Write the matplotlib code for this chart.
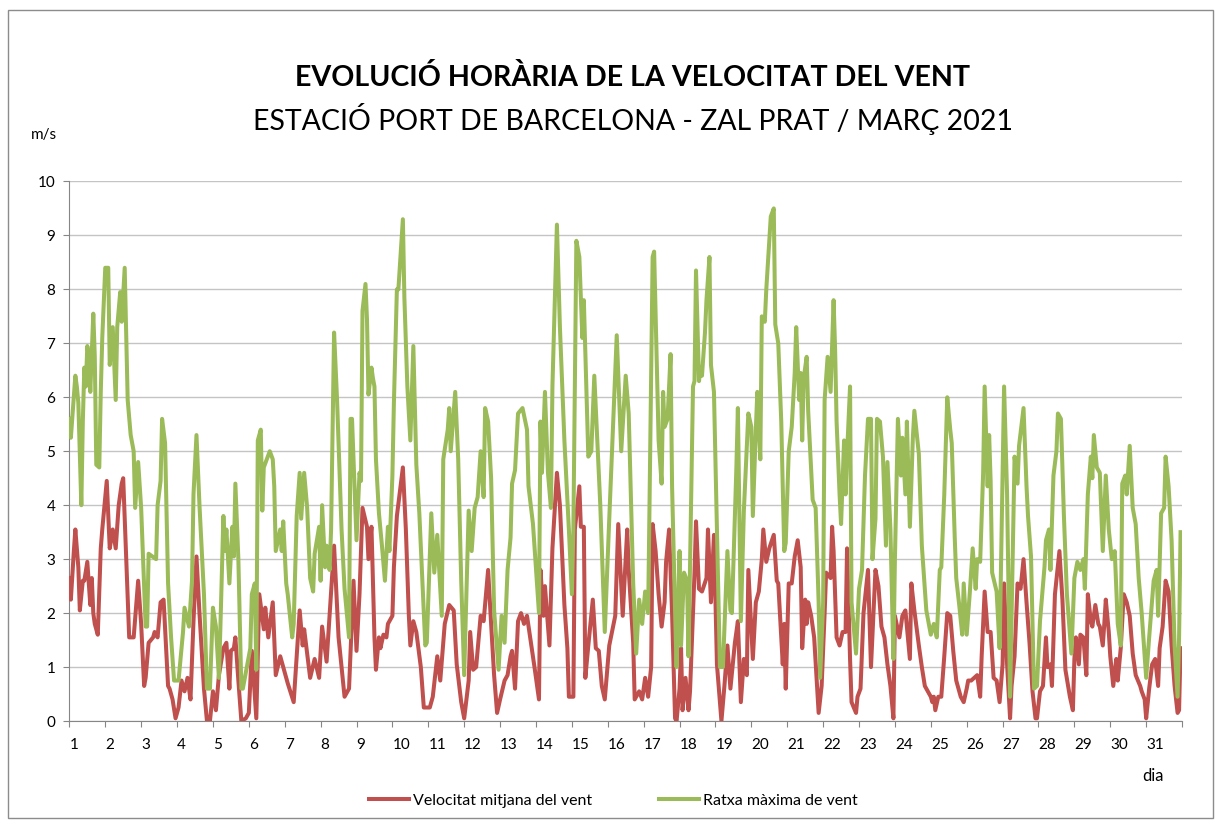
import matplotlib
matplotlib.use('Agg')
import matplotlib.pyplot as plt
import matplotlib.transforms as mtransforms
from matplotlib.patches import Rectangle
from matplotlib.lines import Line2D

# hores des de l'1 de març 00h (0..743), valors en m/s llegits del gràfic
red_hour = [0, 1, 3, 4, 6, 7, 9, 10, 12, 14, 15, 16, 17, 19, 21, 22, 25, 27, 29, 31, 33, 35, 36, 38, 40, 43, 46, 48,
            50, 51, 53, 56, 57, 59, 61, 63, 66, 67, 69, 71, 73, 75, 77, 79, 81, 83, 85, 87, 90, 92, 94,
            96, 98, 100, 103, 105, 107, 108, 110, 111, 113, 115, 118, 120, 122, 125, 127, 130, 131, 133, 136, 138,
            141, 144, 146, 150, 154, 156, 157, 161, 164, 167, 169, 172, 177, 180, 184, 187, 190, 192, 194,
            196, 199, 200, 202, 203, 204, 205, 207, 208, 210, 212, 213, 216, 217, 219, 223, 225, 227, 228, 230,
            232, 235, 237, 241, 243, 246, 248, 251, 254, 257, 259, 262, 264, 267, 268, 270, 272, 275, 277, 280,
            282, 284, 286, 288, 291, 293, 295,
            296, 298, 300, 302, 304, 306, 310, 311, 314, 315, 317, 318, 321, 323, 326, 328, 331, 333, 334, 337,
            338, 341, 342, 344, 345, 347, 350, 352, 354, 356, 358, 361, 365, 367, 370, 373, 374, 377, 378, 381,
            383, 385, 387, 389,
            390, 392, 394, 396, 398, 399, 401, 403, 405, 406, 408, 409, 410, 412, 414, 415, 418, 419, 421, 423,
            426, 427, 429, 431, 433, 436, 438, 440, 442, 445, 447, 449, 451, 453, 454, 457, 459, 461, 463, 464,
            466, 468, 471, 473, 474, 477, 478, 479, 481, 483, 485, 487,
            489, 490, 492, 493, 494, 496, 498, 500, 501, 503, 505, 506, 509, 510, 511, 513, 515, 517, 519, 520,
            522, 523, 526, 527, 529, 531, 534, 536, 538, 539, 541, 543, 545, 547, 549, 551, 552, 555, 557, 559,
            562, 563, 565, 568, 570, 572, 576,
            577, 578, 579, 581, 583, 585, 587, 589, 591, 593, 596, 598, 600, 601, 603, 605, 607, 609, 610, 612,
            614, 616, 618, 620, 622, 624, 625, 627, 629, 630, 632, 634, 636, 638, 640, 642, 644, 646, 647, 649,
            651, 653, 654, 656, 657, 659, 662, 664, 666, 669, 671,
            672, 673, 675, 676, 678, 680, 681, 683, 684, 686, 688, 689, 691, 692, 693, 695, 696, 698, 700, 701,
            703, 705, 707, 709, 711, 713, 716, 717, 719, 720, 722, 724, 726, 728, 729, 731, 733, 735, 737, 739,
            741, 742, 743]
red_ms = [2.65, 2.25, 3.15, 3.55, 2.85, 2.05, 2.6, 2.6, 2.95, 2.15, 2.65, 2.0, 1.8, 1.6, 3.2, 3.55, 4.45, 3.2, 3.55,
          3.2, 4.0, 4.4, 4.5, 3.0, 1.55, 1.55, 2.6, 1.8,
          0.65, 0.8, 1.45, 1.55, 1.65, 1.55, 2.2, 2.25, 0.65, 0.6, 0.4, 0.05, 0.25, 0.75, 0.55, 0.8, 0.4, 1.85,
          3.05, 2.0, 0.6, 0.0, 0.0,
          0.55, 0.2, 0.85, 1.35, 1.45, 0.6, 1.3, 1.35, 1.55, 0.75, 0.0, 0.05, 0.15, 1.3, 0.05, 2.35, 1.7, 2.1,
          1.55, 2.2, 0.85,
          1.2, 0.9, 0.7, 0.35, 2.05, 1.4, 1.7, 0.8, 1.15, 0.8, 1.75, 1.1, 3.25, 1.55, 0.45, 0.6, 2.6, 1.3, 2.35,
          3.95, 3.6, 3.0, 3.6, 2.6, 1.55, 0.95, 1.55, 1.35, 1.6, 1.55, 1.8, 1.95, 2.85, 3.8, 4.7, 3.55, 1.95, 1.4,
          1.85,
          1.65, 1.0, 0.25, 0.25, 0.45, 1.2, 0.75, 1.8, 2.15, 2.05, 1.05, 0.35, 0.05, 0.75, 1.65, 0.95, 1.0, 1.95,
          1.85, 2.8,
          1.8, 0.85, 0.15, 0.4, 0.75, 0.85, 1.2,
          1.3, 0.6, 1.85, 2.0, 1.8, 1.95, 1.2, 1.0, 0.4, 2.8, 1.95, 2.5, 1.4, 3.2, 4.6, 4.0, 2.15, 1.35, 0.45, 0.45,
          3.55, 4.35, 3.6, 3.6, 0.8, 1.4, 2.25, 1.35, 1.3, 0.65, 0.4, 1.4, 1.95, 3.65, 1.95, 3.55, 2.8, 1.45, 0.4,
          0.55,
          0.4, 0.8, 0.45, 1.0,
          3.65, 3.15, 2.35, 1.75, 2.2, 2.95, 3.55, 2.0, 0.05, 0.0, 0.6, 1.35, 0.2, 0.8, 0.2, 0.55, 2.75, 3.7, 2.45,
          2.4,
          2.65, 3.55, 2.2, 3.45, 1.05, 0.0, 0.65, 1.4, 0.6, 1.45, 1.85, 0.35, 1.15, 0.85, 2.8, 1.15, 2.2, 2.4, 3.0,
          3.55,
          2.95, 3.2, 3.45, 2.6, 2.55, 1.05, 1.8, 0.6, 2.55, 2.55, 3.05, 3.35,
          2.85, 1.35, 2.25, 1.8, 2.2, 1.95, 1.55, 0.6, 0.15, 0.65, 2.0, 2.75, 2.65, 3.6, 3.15, 1.55, 1.4, 1.65, 1.65,
          3.2,
          1.15, 0.35, 0.15, 0.45, 0.6, 2.0, 2.8, 1.0, 2.2, 2.8, 2.5, 1.75, 1.55, 1.05, 0.65, 0.05, 1.95, 1.55, 1.95,
          2.05,
          1.15, 2.55, 2.05, 1.4, 1.0, 0.65, 0.45,
          0.35, 0.45, 0.2, 0.45, 0.45, 1.2, 2.0, 1.95, 1.3, 0.75, 0.45, 0.35, 0.6, 0.75, 0.75, 0.8, 0.85, 0.45, 1.2,
          2.4,
          1.65, 1.65, 0.8, 0.75, 0.35, 1.05, 2.55, 1.05, 0.05, 0.65, 1.2, 2.55, 2.45, 3.0, 2.2, 1.45, 0.55, 0.05,
          0.05, 0.55,
          0.65, 1.55, 1.0, 1.05, 0.65, 2.35, 3.15, 2.25, 0.95, 0.45, 0.2,
          1.15, 1.55, 1.05, 1.6, 1.55, 0.85, 2.35, 1.85, 1.75, 2.15, 1.8, 1.75, 1.4, 1.8, 2.25, 1.65, 1.2, 0.65,
          1.15, 0.75,
          1.35, 2.35, 2.2, 1.95, 1.25, 0.85, 0.65, 0.55, 0.4, 0.05, 0.6, 1.05, 1.15, 0.65, 1.35, 1.75, 2.6, 2.4,
          1.4, 0.65,
          0.15, 0.2, 1.35]

green_hour = [0, 1, 4, 5, 6, 8, 9, 10, 11, 12, 13, 14, 16, 17, 18, 20, 21, 22, 24, 26, 27, 29, 31, 32, 34, 35, 37,
              38, 39, 41, 43, 44, 46, 48, 51, 52, 53, 58, 59, 61, 62, 64, 66, 68, 70, 73, 76, 77, 80, 82, 83, 85,
              87, 90, 92, 94,
              96, 98, 100, 101, 103, 104, 105, 107, 109, 110, 111, 113, 115, 116, 119, 121, 122, 124, 125, 126,
              128, 129, 130, 134, 136, 137, 138, 141, 142, 143, 145, 146, 149, 150, 152, 154, 155, 157, 159, 161,
              163, 164, 167, 168, 169, 171, 172, 174, 175, 177, 179, 182, 184, 187, 188, 189, 192, 194, 195, 196,
              198,
              199, 200, 202, 203, 204, 205, 207, 209, 211, 213, 214, 216, 217, 219, 220, 223, 224, 226, 228, 230,
              232, 234, 238, 239, 242, 244, 246, 249, 250, 253, 254, 255, 258, 260, 262, 264, 267, 269, 271, 273,
              275, 277, 278, 280, 282, 284, 287, 289, 291, 293, 295,
              296, 298, 300, 303, 306, 307, 310, 314, 315, 316, 318, 320, 322, 323, 326, 328, 331, 334, 336, 337,
              339, 341, 343, 344, 347, 349, 351, 355, 358, 361, 366, 369, 372, 374, 377, 379, 381, 383, 385, 387,
              390,
              391, 393, 394, 396, 397, 398, 400, 402, 403, 405, 406, 408, 409, 411, 413, 414, 417, 418, 419, 421,
              422, 423, 425, 426, 428, 429, 431, 435, 437, 440, 442, 443, 446, 447, 449, 451, 454, 456, 457, 459,
              460, 462, 463, 465, 466, 469, 471, 472, 474, 476, 478, 479, 481, 483, 485, 486, 488, 489,
              490, 491, 493, 494, 497, 499, 501, 502, 504, 505, 507, 509, 511, 512, 513, 515, 516, 518, 519, 520,
              522, 523, 526, 528, 530, 532, 534, 536, 537, 539, 540, 542, 544, 546, 547, 549, 551, 552, 554, 556,
              557, 559, 560, 562, 564, 565, 568, 570, 573, 576,
              578, 580, 582, 583, 585, 587, 589, 590, 592, 593, 595, 597, 598, 600, 602, 604, 606, 607, 609, 611,
              612, 614, 615, 616, 617, 620, 622, 624, 625, 627, 629, 630, 632, 634, 635, 638, 640, 641, 643, 645,
              647, 649, 652, 653, 655, 656, 658, 660, 661, 663, 665, 667, 670, 672, 674, 676, 678, 679, 681,
              683, 684, 685, 687, 689, 691, 693, 695, 697, 699, 701, 703, 704, 706, 707, 709, 711, 713, 715, 717,
              720, 722, 725, 727, 728, 730, 732, 733, 735, 737, 739, 741, 742, 743]
green_ms = [5.6, 5.25, 6.4, 6.2, 5.9, 4.0, 5.55, 6.55, 6.2, 6.95, 6.75, 6.1, 7.55, 6.75, 4.75, 4.7, 6.1, 7.1, 8.4,
            8.4, 6.6, 7.3, 5.95, 7.3, 7.95, 7.4, 8.4,
            7.2, 5.95, 5.3, 5.0, 3.95, 4.8, 3.95, 1.75, 1.75, 3.1, 3.0, 4.0, 4.45, 5.6, 5.15, 2.55, 1.55, 0.75,
            0.75, 1.65, 2.1, 1.75, 2.6, 4.2, 5.3,
            4.0, 2.35, 0.6, 0.6,
            2.1, 1.75, 0.8, 1.75, 3.8, 3.15, 3.55, 2.55, 3.6, 3.05, 4.4, 3.0, 0.6, 0.6, 1.05, 1.35, 2.35, 2.55,
            0.95, 5.2,
            5.4, 3.9, 4.7, 5.0, 4.85, 4.35, 3.15, 3.55, 3.15, 3.7, 2.55, 2.35, 1.55, 1.8, 3.8, 4.6, 3.75, 4.6, 3.95,
            2.65,
            2.4, 3.1, 3.6, 2.6, 4.0, 2.85, 3.25, 2.8, 3.55, 7.2, 5.95, 3.55, 2.45, 1.55, 5.6, 5.6, 3.35, 4.6, 4.45,
            7.6,
            8.1,
            7.45, 6.05, 6.55, 6.35, 6.2, 4.85, 3.85, 3.25, 2.6, 3.6, 3.15, 4.55, 5.9, 8.0, 8.0, 9.3, 7.85, 6.2, 5.2,
            6.95,
            4.75, 3.85, 1.4, 1.45, 3.85, 2.75, 3.45, 1.95, 4.85, 5.4, 5.8, 5.0, 6.1, 4.85, 2.6, 0.85, 3.9, 3.15, 3.95,
            4.15,
            5.0, 4.15, 5.8, 5.55, 4.5, 2.05, 0.95, 1.95, 1.45, 2.8, 3.4,
            4.4, 4.65, 5.7, 5.8, 5.4, 4.35, 3.65, 2.0, 5.55, 4.6, 6.1, 4.6, 3.95, 6.2, 9.2, 7.3, 5.2, 3.55, 2.35,
            3.55,
            8.9, 8.6, 7.1, 7.8, 4.9, 5.0, 6.4, 4.0, 1.65, 3.75, 7.15, 5.0, 6.4, 5.7, 2.55, 1.25, 2.25, 1.8, 2.4, 2.0,
            8.6,
            8.7, 6.35, 5.2, 4.4, 6.1, 5.45, 5.6, 6.8, 4.35, 2.05, 1.0, 3.15, 1.4, 2.75, 2.6, 1.2, 6.2, 6.3, 8.35, 6.3,
            6.55, 6.4, 7.2, 7.8, 8.6, 6.6, 6.1, 1.0, 1.0, 3.15, 2.05, 2.0, 4.7, 5.8, 1.85, 3.9, 5.7, 5.45, 3.8, 5.4,
            6.1, 4.85, 7.5, 7.4, 8.0, 9.35, 9.5, 7.35, 7.0, 5.55, 3.15, 3.3, 5.0, 5.45, 6.45, 7.3, 5.95, 6.45,
            5.2, 6.35, 6.75, 5.75, 4.1, 3.95, 2.2, 0.8, 2.2, 5.95, 6.75, 6.1, 7.8, 6.9, 5.55, 4.2, 3.65, 5.2, 4.2,
            4.95,
            6.2, 2.2, 1.25, 2.45, 2.8, 4.55, 5.6, 5.6, 3.0, 3.75, 5.6, 5.55, 4.9, 3.25, 4.8, 3.55, 1.15, 3.0, 5.6,
            4.55,
            5.25, 4.2, 5.55, 3.6, 5.25, 5.75, 4.95, 3.25, 2.05, 1.6,
            1.8, 1.55, 2.8, 2.85, 4.2, 6.0, 5.4, 5.15, 3.4, 2.65, 2.15, 1.6, 2.55, 1.6, 2.35, 3.2, 2.45, 3.0, 2.95,
            4.6,
            6.2, 4.35, 5.3, 4.45, 2.75, 2.4, 1.35, 4.6, 6.2, 4.2, 0.45, 1.95, 4.9, 4.4, 5.1, 5.8, 4.35, 3.8, 3.05,
            0.6,
            0.65, 1.85, 2.85, 3.35, 3.55, 2.8, 4.55, 5.0, 5.7, 5.6, 3.8, 2.35, 1.25, 2.65, 2.95, 2.8, 3.0, 2.45, 4.2,
            4.9, 4.5, 5.3, 4.7, 4.6, 3.15, 4.55, 3.55, 3.0, 3.15, 1.8, 1.4, 4.4, 4.55, 4.2, 5.1, 3.95, 3.65, 2.65,
            2.0,
            0.8, 1.55, 2.6, 2.8, 1.95, 3.85, 3.95, 4.9, 4.35, 3.35, 1.4, 0.45, 1.55, 3.5]

day_labels = [str(d) for d in range(1, 32)]

RED = '#C0504D'
GREEN = '#9BBB59'
AXIS_GREY = '#868686'

plt.rcParams['font.family'] = ['Lato', 'DejaVu Sans']

fig = plt.figure(figsize=(12.19, 8.26), dpi=100)
ax = fig.add_axes([0.0569, 0.1271, 0.9128, 0.6532])

ax.plot(red_hour, red_ms, color=RED, lw=2.9, solid_joinstyle='round', zorder=3)
ax.plot(green_hour, green_ms, color=GREEN, lw=2.9, solid_joinstyle='round', zorder=4)

ax.set_xlim(0, 744)
ax.set_ylim(0, 10)
ax.set_yticks(range(11))
ax.grid(axis='y', color='#C4C4C4', lw=1)
ax.set_axisbelow(True)

ax.set_xticks([24 * k for k in range(32)])
ax.set_xticklabels(day_labels + [''])
offset = mtransforms.ScaledTranslation(2 / 100, 0, fig.dpi_scale_trans)
for lab in ax.get_xticklabels():
    lab.set_ha('left')
    lab.set_transform(lab.get_transform() + offset)

for side in ['top', 'right']:
    ax.spines[side].set_visible(False)
for side in ['left', 'bottom']:
    ax.spines[side].set_color(AXIS_GREY)
ax.tick_params(axis='both', direction='out', length=4, color=AXIS_GREY, labelsize=11, labelcolor='black')
ax.tick_params(axis='y', pad=6)
ax.tick_params(axis='x', pad=8)

# titols i textos
fig.text(0.519, 0.9056, 'EVOLUCIÓ HORÀRIA DE LA VELOCITAT DEL VENT', ha='center', va='center',
         fontsize=20.6, fontweight='bold')
fig.text(0.519, 0.856, 'ESTACIÓ PORT DE BARCELONA - ZAL PRAT / MARÇ 2021', ha='center', va='center',
         fontsize=20.5)
fig.text(0.036, 0.837, 'm/s', ha='center', va='center', fontsize=11)
fig.text(0.946, 0.0605, 'dia', ha='center', va='center', fontsize=12)

handles = [Line2D([], [], color=RED, lw=2.9), Line2D([], [], color=GREEN, lw=2.9)]
fig.legend(handles, ['Velocitat mitjana del vent', 'Ratxa màxima de vent'], loc='center',
           bbox_to_anchor=(0.503, 0.0303), ncol=2, frameon=False, fontsize=11.5,
           handlelength=2.5, handletextpad=0.25, columnspacing=4.2)

fig.patches.append(Rectangle((8 / 1219, 1 - 818 / 826), 1205 / 1219, 808 / 826, transform=fig.transFigure,
                             fill=False, edgecolor='#8C8C8C', lw=1))

fig.savefig('out.png', dpi=100)
